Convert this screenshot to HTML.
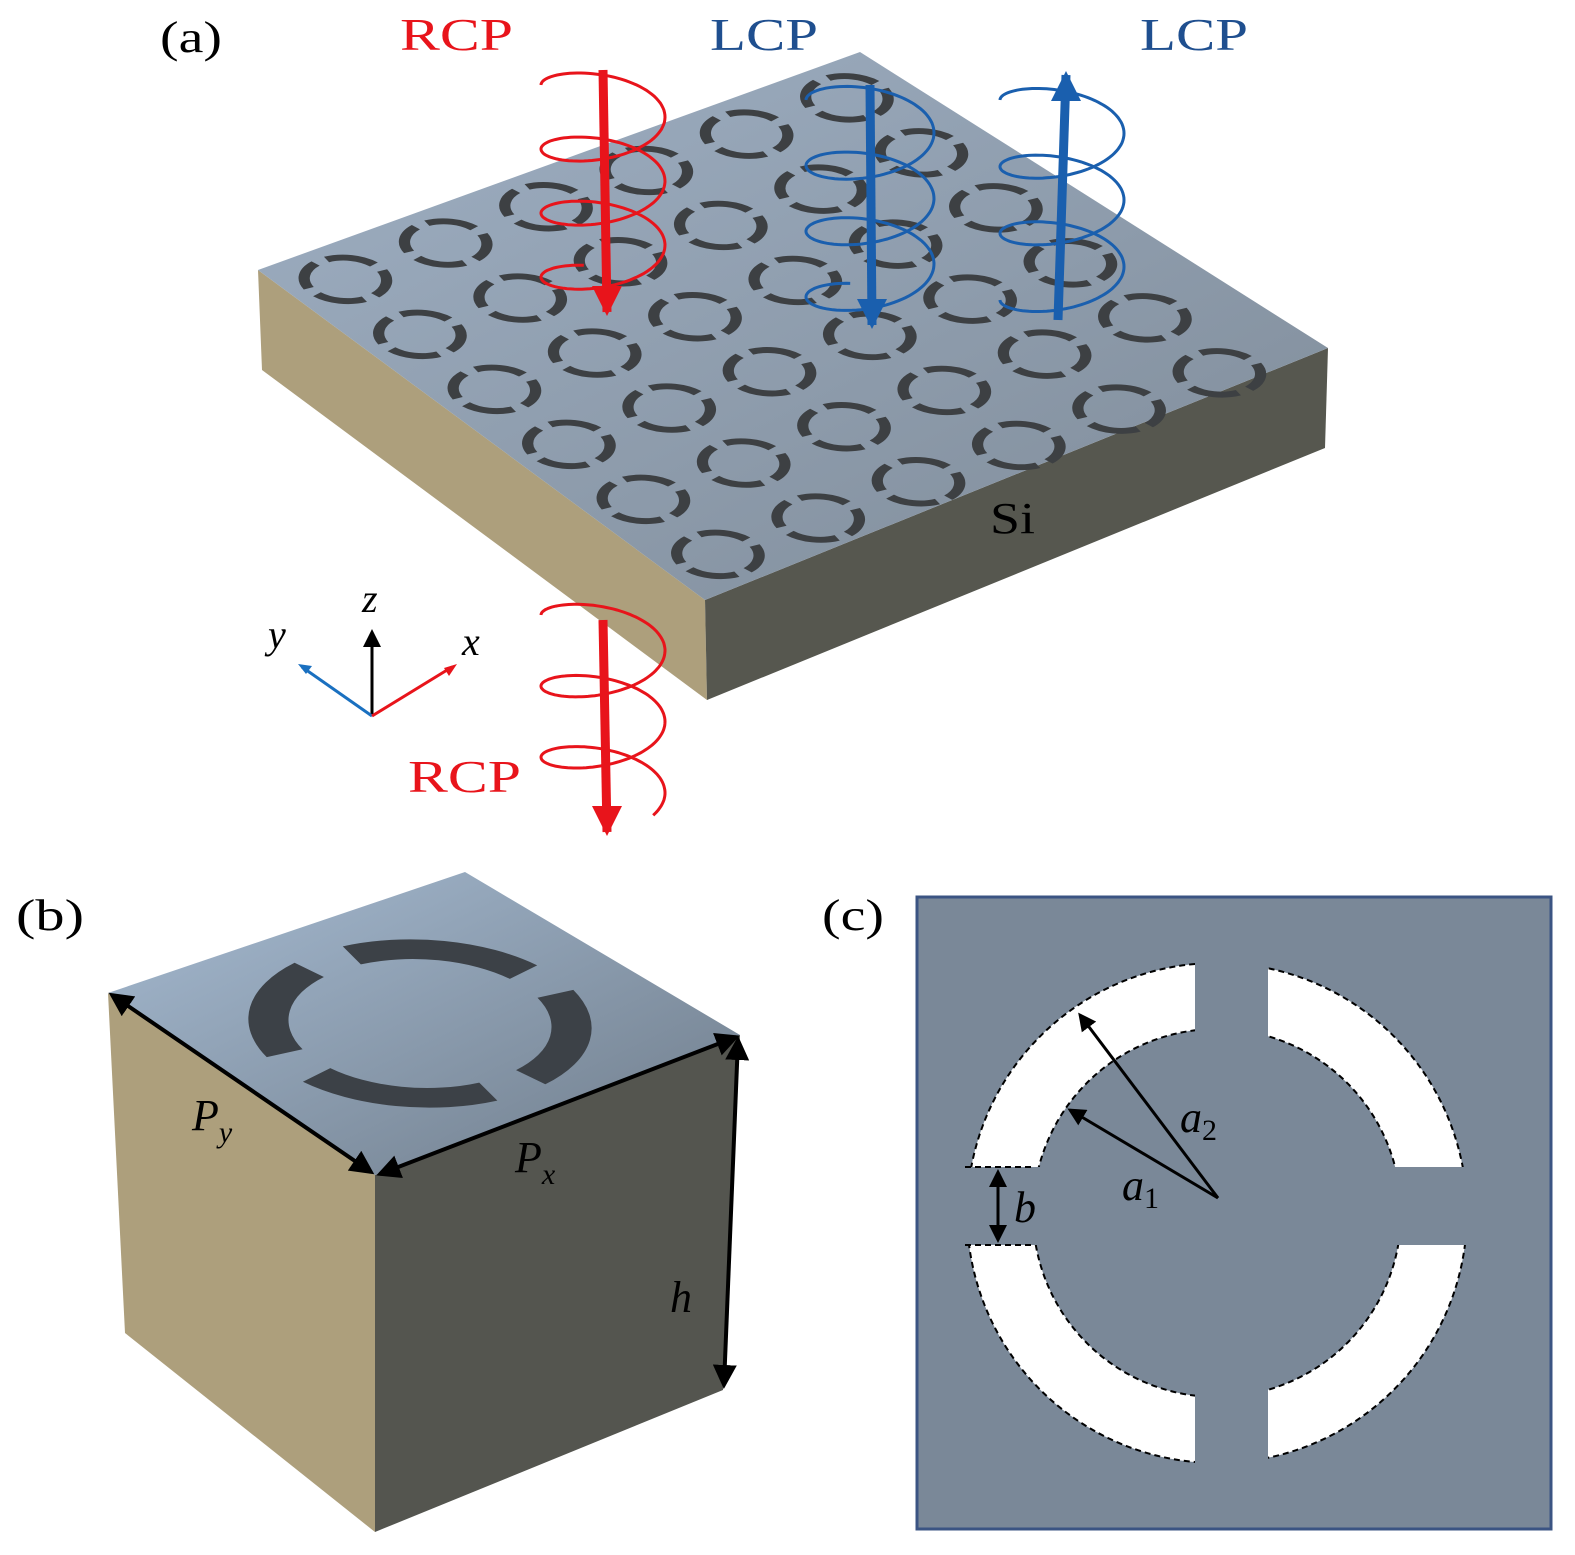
<!DOCTYPE html>
<html><head><meta charset="utf-8"><style>
html,body{margin:0;padding:0;background:#fff;}
svg{display:block}
text{font-family:"Liberation Serif",serif;}
</style></head><body>
<svg id="s" width="1575" height="1555" viewBox="0 0 1575 1555" xmlns="http://www.w3.org/2000/svg">
<defs>
<linearGradient id="top" x1="0" y1="0" x2="1" y2="1">
<stop offset="0" stop-color="#9fb0c4"/><stop offset="1" stop-color="#7f8b98"/></linearGradient>
<linearGradient id="ctop" x1="0" y1="0" x2="1" y2="1">
<stop offset="0" stop-color="#a6bbd2"/><stop offset="1" stop-color="#6f7c8a"/></linearGradient>
<marker id="bk" markerWidth="6" markerHeight="6" refX="5" refY="3" orient="auto"><path d="M0,0 L6,3 L0,6 z" fill="#000"/></marker>
<marker id="bks" markerWidth="6" markerHeight="6" refX="1" refY="3" orient="auto"><path d="M6,0 L0,3 L6,6 z" fill="#000"/></marker>
</defs>
<!-- slab -->
<polygon points="258,270 705,600 707,700 262,370" fill="#ad9f7c"/>
<polygon points="705,600 1328,348 1325,448 707,700" fill="#56574f"/>
<polygon points="258,270 860,52 1328,348 705,600" fill="url(#top)"/>
<g id="rings"></g>
<g id="helix"></g>
<text x="160" y="52" font-size="44" textLength="62" lengthAdjust="spacingAndGlyphs">(a)</text>
<text x="400" y="50" font-size="46" fill="#e8141b" textLength="113" lengthAdjust="spacingAndGlyphs">RCP</text>
<text x="710" y="50" font-size="46" fill="#1f4f8f" textLength="108" lengthAdjust="spacingAndGlyphs">LCP</text>
<text x="1140" y="50" font-size="46" fill="#1f4f8f" textLength="108" lengthAdjust="spacingAndGlyphs">LCP</text>
<text x="408" y="792" font-size="46" fill="#e8141b" textLength="113" lengthAdjust="spacingAndGlyphs">RCP</text>
<text x="990" y="533" font-size="44" textLength="45" lengthAdjust="spacingAndGlyphs">Si</text>
<!-- axes -->
<line x1="372" y1="716" x2="372" y2="632" stroke="#000" stroke-width="3" marker-end="url(#bk)"/>
<line x1="372" y1="716" x2="302" y2="667" stroke="#1a70c0" stroke-width="3"/>
<path d="M298,664 l14,2 l-6,8z" fill="#1a70c0"/>
<line x1="372" y1="716" x2="452" y2="667" stroke="#e8141b" stroke-width="3"/>
<path d="M457,664 l-8,12 l-5,-8z" fill="#e8141b"/>
<text x="362" y="612" font-size="40" font-style="italic">z</text>
<text x="268" y="648" font-size="40" font-style="italic">y</text>
<text x="462" y="655" font-size="40" font-style="italic">x</text>
<!-- (b) cube -->
<text x="16" y="930" font-size="44" textLength="68" lengthAdjust="spacingAndGlyphs">(b)</text>
<polygon points="108,993 375,1175 375,1532 125,1333" fill="#ad9f7c"/>
<polygon points="375,1175 740,1035 723,1390 375,1532" fill="#54554f"/>
<polygon points="108,993 465,872 740,1035 375,1175" fill="url(#ctop)"/>
<g transform="matrix(2.67,1.82,3.57,-1.21,108,993)">
<circle cx="50" cy="50" r="34" fill="none" stroke="#3c4147" stroke-width="9" stroke-dasharray="41.4 12" stroke-dashoffset="47.4"/>
</g>
<line x1="112" y1="995" x2="371" y2="1172" stroke="#000" stroke-width="4" marker-end="url(#bk)" marker-start="url(#bks)"/>
<line x1="380" y1="1174" x2="736" y2="1037" stroke="#000" stroke-width="4" marker-end="url(#bk)" marker-start="url(#bks)"/>
<line x1="738" y1="1040" x2="724" y2="1385" stroke="#000" stroke-width="4" marker-end="url(#bk)" marker-start="url(#bks)"/>
<text x="192" y="1130" font-size="44" font-style="italic">P<tspan font-size="30" dy="12">y</tspan></text>
<text x="515" y="1172" font-size="44" font-style="italic">P<tspan font-size="30" dy="12">x</tspan></text>
<text x="670" y="1312" font-size="44" font-style="italic">h</text>
<!-- (c) -->
<text x="822" y="930" font-size="44" textLength="62" lengthAdjust="spacingAndGlyphs">(c)</text>
<rect x="917" y="897" width="634" height="632" fill="#7a8898" stroke="#3b5483" stroke-width="3"/>
<circle cx="1217" cy="1213" r="217" fill="none" stroke="#fff" stroke-width="66"/>
<g fill="none" stroke="#000" stroke-width="2" stroke-dasharray="6,4">
<circle cx="1217" cy="1213" r="250"/><circle cx="1217" cy="1213" r="184"/>
</g>
<rect x="1195" y="955" width="73" height="520" fill="#7a8898"/>
<rect x="960" y="1167" width="520" height="78" fill="#7a8898"/>
<g fill="none" stroke="#000" stroke-width="2" stroke-dasharray="6,4">
<line x1="965" y1="1167" x2="1035" y2="1167"/><line x1="965" y1="1245" x2="1035" y2="1245"/>
</g>
<line x1="1218" y1="1198" x2="1080" y2="1015" stroke="#000" stroke-width="3" marker-end="url(#bk)"/>
<line x1="1218" y1="1198" x2="1070" y2="1110" stroke="#000" stroke-width="3" marker-end="url(#bk)"/>
<line x1="998" y1="1172" x2="998" y2="1240" stroke="#000" stroke-width="3" marker-end="url(#bk)" marker-start="url(#bks)"/>
<text x="1180" y="1132" font-size="44" font-style="italic">a<tspan font-size="30" dy="8" font-style="normal">2</tspan></text>
<text x="1122" y="1200" font-size="44" font-style="italic">a<tspan font-size="30" dy="8" font-style="normal">1</tspan></text>
<text x="1014" y="1222" font-size="44" font-style="italic">b</text>
</svg>
<script>
var NS="http://www.w3.org/2000/svg";
var g=document.getElementById("rings");
var L=[258,270],u=[74.5,55],v=[100.3,-36.3];
for(var i=0;i<6;i++)for(var j=0;j<6;j++){
 var ox=L[0]+i*u[0]+j*v[0], oy=L[1]+i*u[1]+j*v[1];
 var gg=document.createElementNS(NS,"g");
 gg.setAttribute("transform","matrix("+(u[0]/100)+","+(u[1]/100)+","+(v[0]/100)+","+(v[1]/100)+","+ox+","+oy+")");
 var e=document.createElementNS(NS,"circle");
 e.setAttribute("cx",50);e.setAttribute("cy",50);e.setAttribute("r",33);
 e.setAttribute("fill","none");e.setAttribute("stroke","#3d4043");e.setAttribute("stroke-width",9);
 e.setAttribute("stroke-dasharray","40.8 11");e.setAttribute("stroke-dashoffset","46.3");
 gg.appendChild(e);g.appendChild(gg);
}
var h=document.getElementById("helix");
function helix(cx,y0,y1,R,r,turns,col){
 var d="";var N=300;
 for(var k=0;k<=N;k++){var t=k/N*turns*2*Math.PI;
  var x=cx+R*Math.cos(t+Math.PI), y=y0+(y1-y0)*k/N+r*Math.sin(t+Math.PI);
  d+=(k?"L":"M")+x.toFixed(1)+","+y.toFixed(1);}
 var p=document.createElementNS(NS,"path");p.setAttribute("d",d);p.setAttribute("fill","none");
 p.setAttribute("stroke",col);p.setAttribute("stroke-width",3);h.appendChild(p);
}
function arrow(x1,y1,x2,y2,col){
 var l=document.createElementNS(NS,"line");
 l.setAttribute("x1",x1);l.setAttribute("y1",y1);l.setAttribute("x2",x2);l.setAttribute("y2",y2);
 l.setAttribute("stroke",col);l.setAttribute("stroke-width",9);h.appendChild(l);
 var dir=y2>y1?1:-1;var p=document.createElementNS(NS,"path");
 p.setAttribute("d","M"+(x2-15)+","+(y2-dir*26)+" L"+(x2+15)+","+(y2-dir*26)+" L"+x2+","+(y2+dir*4)+"z");
 p.setAttribute("fill",col);h.appendChild(p);
}
helix(603,85,290,62,26,3.2,"#e8141b");arrow(603,70,607,312,"#e8141b");
helix(870,100,310,64,28,3.2,"#1a5fae");arrow(870,85,872,325,"#1a5fae");
helix(1062,100,300,62,26,3.0,"#1a5fae");arrow(1058,320,1066,75,"#1a5fae");
helix(603,615,800,62,26,2.6,"#e8141b");arrow(603,620,607,832,"#e8141b");
</script>
</body></html>
